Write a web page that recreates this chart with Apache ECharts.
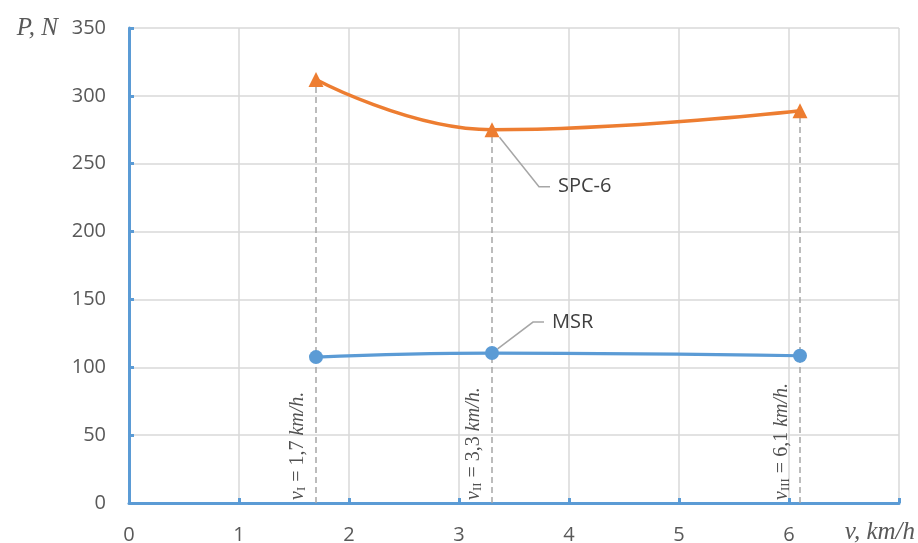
<!DOCTYPE html>
<html>
<head>
<meta charset="utf-8">
<script src="https://cdn.jsdelivr.net/npm/echarts@6/dist/echarts.min.js"></script>
<style>
  html, body { margin: 0; padding: 0; background: #ffffff; }
  #chart { width: 918px; height: 543px; }
</style>
</head>
<body>
<div id="chart"></div>
<script>
// Travel speeds (km/h) at which the draft force was measured
const speeds = [1.7, 3.3, 6.1];
const speedText = ['1,7', '3,3', '6,1'];
const speedSubs = ['I', 'II', 'III'];

// Draft force P, N
const msrForce = [107.5, 110.5, 108.5];
const spcForce = [312, 275, 289];

// Series names
const msrName = 'MSR';
const spcName = 'SPC-6';

// Axis ranges
const xMin = 0, xMax = 7, xStep = 1;
const yMin = 0, yMax = 350, yStep = 50;

const blue = '#5B9BD5';
const orange = '#ED7D31';
const grey = '#A6A6A6';
const tickColor = '#595959';

const chart = echarts.init(document.getElementById('chart'), null, { renderer: 'canvas' });

const pairs = (xs, ys) => xs.map((x, i) => [x, ys[i]]);

const calloutLayout = (dx, dy) => (params) => ({
  x: params.rect.x + params.rect.width / 2 + dx,
  y: params.rect.y + params.rect.height / 2 + dy,
  align: 'left',
  verticalAlign: 'middle'
});

const calloutLabel = {
  show: true,
  position: 'right',
  fontFamily: 'Open Sans',
  fontSize: 20,
  color: '#404040',
  backgroundColor: 'rgba(255,255,255,0)',
  padding: [0, 0, 0, 8]
};

const calloutLine = {
  show: true,
  length2: 11,
  lineStyle: { color: grey, width: 1.5 }
};

const option = {
  animation: false,
  backgroundColor: '#ffffff',
  grid: { left: 129, right: 19, top: 28, bottom: 40, containLabel: false, outerBoundsMode: 'none' },
  xAxis: {
    type: 'value',
    min: xMin, max: xMax, interval: xStep,
    name: 'v, km/h',
    nameLocation: 'end',
    nameGap: 16,
    nameTextStyle: {
      fontFamily: 'Liberation Serif', fontStyle: 'italic', fontSize: 25,
      color: tickColor, align: 'right', verticalAlign: 'top', padding: [17, 0, 0, 0]
    },
    axisLine: { show: true, onZero: false, lineStyle: { color: blue, width: 3 } },
    axisTick: { show: true, inside: true, length: 5, lineStyle: { color: blue, width: 3 } },
    axisLabel: {
      margin: 22, fontFamily: 'Open Sans', fontSize: 20, color: tickColor,
      formatter: (v) => (v === xMax ? '' : String(v))
    },
    splitLine: { show: true, lineStyle: { color: '#D9D9D9', width: 1.5 } }
  },
  yAxis: {
    type: 'value',
    min: yMin, max: yMax, interval: yStep,
    name: 'P, N',
    nameLocation: 'end',
    nameGap: 0,
    nameTextStyle: {
      fontFamily: 'Liberation Serif', fontStyle: 'italic', fontSize: 25,
      color: tickColor, align: 'right', verticalAlign: 'middle', padding: [0, 71, 0, 0]
    },
    axisLine: { show: true, onZero: false, lineStyle: { color: blue, width: 3 } },
    axisTick: { show: true, inside: true, length: 5, lineStyle: { color: blue, width: 3 } },
    axisLabel: { margin: 23, fontFamily: 'Open Sans', fontSize: 20, color: tickColor },
    splitLine: { show: true, lineStyle: { color: '#D9D9D9', width: 1.5 } }
  },
  series: [
    {
      name: spcName,
      type: 'line',
      smooth: 0.45,
      data: pairs(speeds, spcForce).map((p, i) => (
        i === 1
          ? { value: p, label: Object.assign({}, calloutLabel, { formatter: spcName }), labelLine: calloutLine }
          : { value: p }
      )),
      symbol: 'triangle',
      symbolSize: 15,
      itemStyle: { color: orange },
      lineStyle: { color: orange, width: 3.5 },
      labelLayout: calloutLayout(58, 57),
      z: 3,
      markLine: {
        silent: true,
        symbol: ['none', 'none'],
        label: { show: false },
        lineStyle: { color: grey, type: [6, 4], width: 1.5 },
        data: speeds.map((x, i) => [
          { coord: [x, yMin] },
          { coord: [x, spcForce[i]] }
        ]),
        z: 1
      }
    },
    {
      name: msrName,
      type: 'line',
      smooth: 0.45,
      data: pairs(speeds, msrForce).map((p, i) => (
        i === 1
          ? { value: p, label: Object.assign({}, calloutLabel, { formatter: msrName }), labelLine: calloutLine }
          : { value: p }
      )),
      symbol: 'circle',
      symbolSize: 14,
      itemStyle: { color: blue },
      lineStyle: { color: blue, width: 3.2 },
      labelLayout: calloutLayout(52, -31),
      z: 3
    },
    {
      // Rotated speed annotations standing on the horizontal axis
      type: 'scatter',
      silent: true,
      symbolSize: 1,
      itemStyle: { color: 'rgba(0,0,0,0)' },
      data: speeds.map((x) => [x, yMin]),
      label: {
        show: true,
        position: 'inside',
        rotate: 90,
        align: 'left',
        verticalAlign: 'bottom',
        offset: [3, -8],
        formatter: (p) =>
          '{v|v}{s|' + speedSubs[p.dataIndex] + '}{t| = ' + speedText[p.dataIndex] + ' }{u|km/h.}',
        rich: {
          v: { fontFamily: 'Liberation Serif', fontStyle: 'italic', fontSize: 20, color: '#262626', lineHeight: 21 },
          s: { fontFamily: 'Liberation Serif', fontSize: 13, color: '#262626', lineHeight: 13, verticalAlign: 'bottom' },
          t: { fontFamily: 'Liberation Serif', fontSize: 20, color: '#262626', lineHeight: 21 },
          u: { fontFamily: 'Liberation Serif', fontStyle: 'italic', fontSize: 20, color: '#262626', lineHeight: 21 }
        }
      },
      z: 2
    }
  ]
};

chart.setOption(option);
</script>
</body>
</html>
